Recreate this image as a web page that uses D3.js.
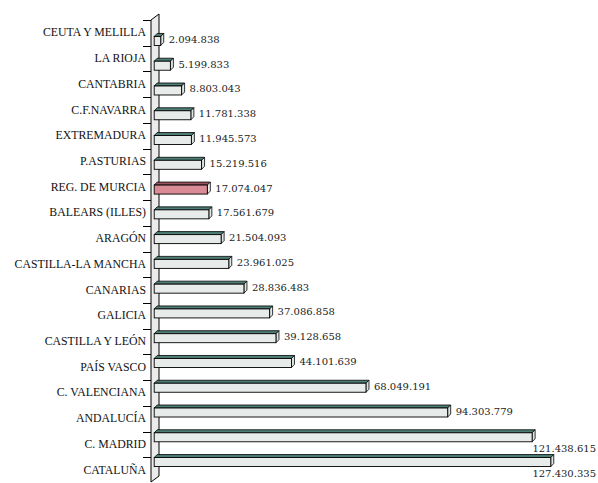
<!DOCTYPE html>
<html>
<head>
<meta charset="utf-8">
<script src="https://cdn.jsdelivr.net/npm/d3@7"></script>
<style>
  html, body { margin: 0; padding: 0; background: #fff; }
  svg { display: block; }
  .cat { font-family: "Liberation Serif", "Times New Roman", Times, serif; font-size: 11.8px; fill: #111; }
  .val { font-family: "DejaVu Serif", "Liberation Serif", serif; font-size: 10px; fill: #222; }
</style>
</head>
<body>
<svg id="chart" width="598" height="483"></svg>
<script>
// Regions, listed top to bottom as drawn
const regions = [
  "CEUTA Y MELILLA", "LA RIOJA", "CANTABRIA", "C.F.NAVARRA", "EXTREMADURA",
  "P.ASTURIAS", "REG. DE MURCIA", "BALEARS (ILLES)", "ARAGÓN",
  "CASTILLA-LA MANCHA", "CANARIAS", "GALICIA", "CASTILLA Y LEÓN",
  "PAÍS VASCO", "C. VALENCIANA", "ANDALUCÍA", "C. MADRID", "CATALUÑA"
];
const amounts = [
  2094838, 5199833, 8803043, 11781338, 11945573,
  15219516, 17074047, 17561679, 21504093,
  23961025, 28836483, 37086858, 39128658,
  44101639, 68049191, 94303779, 121438615, 127430335
];
const highlighted = ["REG. DE MURCIA"];

const W = 598, H = 483;
const svg = d3.select("#chart");

// Spanish number format: 1.234.567
const es = d3.formatLocale({ decimal: ",", thousands: ".", grouping: [3], currency: ["", " €"] });
const fmt = es.format(",d");

const x = d3.scaleLinear().domain([0, 140e6]).range([154.2, 154.2 + 140 * 3.112]);
// front plane of the wall (ticks, category labels)
const yFront = d3.scaleBand().domain(regions).range([20, 483]).paddingInner(0).paddingOuter(0);
// bars sit slightly deeper in the 3D box
const yBar = d3.scaleBand().domain(regions).range([20.5, 479.5]).padding(0.53);

const wallX = 151, wallDx = 8, wallDy = -6;
const wallTop = 20, wallBottom = 482;

// side wall of the 3D box
svg.append("path")
  .attr("d", `M${wallX},${wallTop} L${wallX + wallDx},${wallTop + wallDy} L${wallX + wallDx},${wallBottom + wallDy} L${wallX},${wallBottom} Z`)
  .attr("fill", "#ebebeb")
  .attr("stroke", "#000")
  .attr("stroke-width", 1);

// category ticks
const tickYs = regions.map(r => yFront(r)).concat([yFront(regions[regions.length - 1]) + yFront.bandwidth()]);
svg.append("g").selectAll("line").data(tickYs).join("line")
  .attr("x1", wallX - 8).attr("x2", wallX)
  .attr("y1", d => Math.round(d) + 0.5).attr("y2", d => Math.round(d) + 0.5)
  .attr("stroke", "#000").attr("stroke-width", 1);

// category labels
svg.append("g").selectAll("text").data(regions).join("text")
  .attr("class", "cat")
  .attr("x", wallX - 5)
  .attr("y", d => yFront(d) + yFront.bandwidth() / 2 - 0.5)
  .attr("text-anchor", "end")
  .attr("dominant-baseline", "central")
  .text(d => d);

// 3D bars
const dx = 3, dy = 3;
const bars = svg.append("g").selectAll("g").data(regions.map((r, i) => ({ r, v: amounts[i] }))).join("g");

bars.each(function (d) {
  const g = d3.select(this);
  const hi = highlighted.includes(d.r);
  const c = yBar(d.r) + yBar.bandwidth() / 2;
  const x0 = x(0), x1 = x(d.v);
  const top = c - 3, bot = c + 6;
  // top face
  g.append("path")
    .attr("d", `M${x0},${top} L${x0 + dx},${top - dy} L${x1 + dx},${top - dy} L${x1},${top} Z`)
    .attr("fill", hi ? "#9c5560" : "#4d7f76")
    .attr("stroke", "#000").attr("stroke-width", 0.8);
  // end face
  g.append("path")
    .attr("d", `M${x1},${top} L${x1 + dx},${top - dy} L${x1 + dx},${bot - dy} L${x1},${bot} Z`)
    .attr("fill", hi ? "#eeeeee" : "#dfe6e3")
    .attr("stroke", "#000").attr("stroke-width", 0.8);
  // front face
  g.append("rect")
    .attr("x", x0).attr("y", top)
    .attr("width", x1 - x0).attr("height", bot - top)
    .attr("fill", hi ? "#da8b95" : "#e7ebe9")
    .attr("stroke", "#000").attr("stroke-width", 0.9);

  // value label
  const t = g.append("text")
    .attr("class", "val")
    .attr("x", x1 + 8)
    .attr("y", c)
    .attr("dominant-baseline", "central")
    .text(fmt(d.v));
  const w = t.node().getComputedTextLength();
  if (x1 + 8 + w > W - 2) {
    // no room on the right: tuck it under the bar's end
    t.attr("x", W - 2).attr("text-anchor", "end")
      .attr("dominant-baseline", "alphabetic")
      .attr("y", bot + 10);
  }
});
</script>
</body>
</html>
